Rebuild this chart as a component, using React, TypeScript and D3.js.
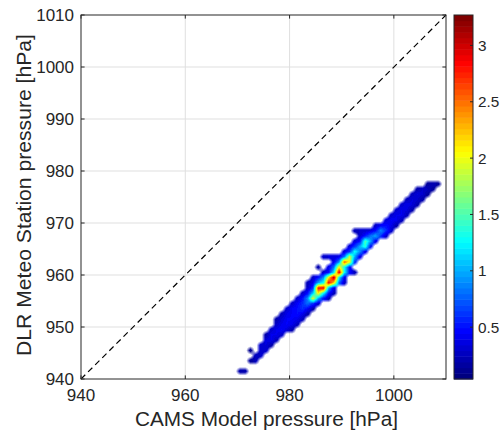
import React, { useMemo } from 'react';
import * as d3 from 'd3';

const xTicks = [940, 960, 980, 1000];
const yTicks = [940, 950, 960, 970, 980, 990, 1000, 1010];
const cbarTicks = [0.5, 1, 1.5, 2, 2.5, 3];
const axisDomain: [number, number] = [940, 1010];
const colorDomain: [number, number] = [0.04, 3.27];
const xLabel = 'CAMS Model pressure [hPa]';
const yLabel = 'DLR Meteo Station pressure [hPa]';

// 2D histogram, 1 hPa bins: lower edge of the station (y) bin, first model (x) bin, bin values
const rowY = [941, 943, 944, 945, 946, 947, 948, 949, 950, 951, 952, 953, 954, 955, 956, 957, 958, 959, 960, 961, 962, 963, 964, 965, 966, 967, 968, 969, 970, 971, 972, 973, 974, 975, 976, 977];
const rowXStart = [970, 972, 973, 972, 974, 975, 975, 976, 977, 977, 978, 979, 980, 981, 982, 983, 983, 984, 986, 985, 988, 986, 990, 991, 992, 993, 992, 996, 998, 999, 1000, 1001, 1002, 1003, 1004, 1006];
const rowValues: number[][] = [
  [0.2, 0.2],
  [0.15, 0.25],
  [0.25, 0.3],
  [0.12, 0, 0.3, 0.3],
  [0.3, 0.35, 0.2],
  [0.35, 0.4, 0.25],
  [0.2, 0.4, 0.4, 0.3],
  [0.3, 0.4, 0.45, 0.35, 0.2],
  [0.3, 0.4, 0.45, 0.4, 0.25],
  [0.2, 0.35, 0.45, 0.45, 0.4, 0.25],
  [0.25, 0.4, 0.45, 0.5, 0.4, 0.2],
  [0.3, 0.45, 0.5, 0.6, 0.45, 0.2],
  [0.3, 0.45, 0.6, 0.8, 0.6, 0.3],
  [0.3, 0.5, 0.9, 2.0, 1.0, 0.5, 0.25],
  [0.3, 0.5, 1.1, 2.1, 1.3, 0.5, 0.25],
  [0.3, 0.6, 2.8, 2.9, 1.0, 0.4],
  [0.25, 0.4, 1.0, 1.3, 2.9, 2.2, 0.8, 0.3],
  [0.3, 0.5, 0.9, 2.1, 3.1, 1.2, 0.4],
  [0.3, 0.5, 1.2, 3.0, 1.3, 0.5, 0.25],
  [0.2, 0, 0.4, 0.8, 2.1, 1.3, 0.5],
  [0.4, 0.9, 2.6, 2.0, 0.6],
  [0.3, 0.35, 0.35, 0.4, 0.8, 1.9, 1.0, 0.4],
  [0.35, 0.6, 1.3, 0.9, 0.4],
  [0.35, 0.6, 1.0, 1.4, 0.5],
  [0.35, 0.5, 1.5, 1.0, 0.4],
  [0.3, 0.5, 0.8, 1.0, 0.6, 0.3],
  [0.25, 0.3, 0.3, 0.35, 0.5, 0.9, 0.6, 0.3],
  [0.3, 0.45, 0.5, 0.4, 0.2],
  [0.35, 0.45, 0.4, 0.25],
  [0.3, 0.4, 0.4, 0.25],
  [0.3, 0.4, 0.35, 0.2],
  [0.3, 0.4, 0.35, 0.2],
  [0.25, 0.35, 0.3, 0.2],
  [0.25, 0.35, 0.3, 0.15],
  [0.2, 0.3, 0.25, 0.15],
  [0.15, 0.25, 0.15],
];

const W = 504;
const H = 431;
const LEFT = 81;
const RIGHT = 446;
const TOP = 15;
const BOTTOM = 379;
const CB_X0 = 454;
const CB_X1 = 473;
const FONT = '"Liberation Sans", Arial, Helvetica, sans-serif';
const TXT = '#262626';
const NLEV = 64;

function jet(t: number): [number, number, number] {
  const c = (v: number) => Math.max(0, Math.min(1, v));
  return [c(1.5 - Math.abs(4 * t - 3)), c(1.5 - Math.abs(4 * t - 2)), c(1.5 - Math.abs(4 * t - 1))];
}
function levelColor(v: number): [number, number, number] {
  const t = (v - colorDomain[0]) / (colorDomain[1] - colorDomain[0]);
  let idx = Math.floor(t * NLEV);
  idx = Math.max(0, Math.min(NLEV - 1, idx));
  return jet(idx / (NLEV - 1));
}

export default function App() {
  const x = d3.scaleLinear().domain(axisDomain).range([LEFT, RIGHT]);
  const y = d3.scaleLinear().domain(axisDomain).range([BOTTOM, TOP]);
  const cy = d3.scaleLinear().domain(colorDomain).range([BOTTOM, TOP]);

  const imgUrl = useMemo(() => {
    const n = axisDomain[1] - axisDomain[0];
    const val = new Float64Array(n * n);
    const mask = new Float64Array(n * n);
    rowY.forEach((yy, r) => {
      rowValues[r].forEach((v, k) => {
        if (v <= 0) return;
        const i = rowXStart[r] + k - axisDomain[0];
        const j = yy - axisDomain[0];
        val[j * n + i] = v;
        mask[j * n + i] = 1;
      });
    });
    const pw = RIGHT - LEFT;
    const ph = BOTTOM - TOP;
    const canvas = document.createElement('canvas');
    canvas.width = pw;
    canvas.height = ph;
    const ctx = canvas.getContext('2d')!;
    const img = ctx.createImageData(pw, ph);
    const get = (arr: Float64Array, i: number, j: number) =>
      i < 0 || j < 0 || i >= n || j >= n ? 0 : arr[j * n + i];
    for (let py = 0; py < ph; py++) {
      const dy = y.invert(TOP + py + 0.5) - axisDomain[0] - 0.5;
      const j0 = Math.floor(dy);
      const fy = dy - j0;
      for (let px = 0; px < pw; px++) {
        const dx = x.invert(LEFT + px + 0.5) - axisDomain[0] - 0.5;
        const i0 = Math.floor(dx);
        const fx = dx - i0;
        const w00 = (1 - fx) * (1 - fy), w10 = fx * (1 - fy), w01 = (1 - fx) * fy, w11 = fx * fy;
        const a = w00 * get(mask, i0, j0) + w10 * get(mask, i0 + 1, j0) + w01 * get(mask, i0, j0 + 1) + w11 * get(mask, i0 + 1, j0 + 1);
        if (a < 0.01) continue;
        const s = w00 * get(val, i0, j0) + w10 * get(val, i0 + 1, j0) + w01 * get(val, i0, j0 + 1) + w11 * get(val, i0 + 1, j0 + 1);
        const v = s / a;
        const alpha = Math.max(0, Math.min(1, a * 1.6 - 0.3));
        const [r, g, b] = levelColor(v);
        const o = (py * pw + px) * 4;
        img.data[o] = r * 255;
        img.data[o + 1] = g * 255;
        img.data[o + 2] = b * 255;
        img.data[o + 3] = alpha * 255;
      }
    }
    ctx.putImageData(img, 0, 0);
    return canvas.toDataURL();
  }, []);

  const tickLen = 3.6;
  const levels = d3.range(NLEV);
  const cbStep = (colorDomain[1] - colorDomain[0]) / NLEV;

  return (
    <svg width={W} height={H} style={{ position: 'absolute', left: 0, top: 0, background: '#fff' }} fontFamily={FONT}>
      <rect x={0} y={0} width={W} height={H} fill="#fff" />
      {xTicks.filter((t) => t > axisDomain[0] && t < axisDomain[1]).map((t) => (
        <line key={'gx' + t} x1={x(t)} x2={x(t)} y1={TOP} y2={BOTTOM} stroke="#dfdfdf" strokeWidth={1} />
      ))}
      {yTicks.filter((t) => t > axisDomain[0] && t < axisDomain[1]).map((t) => (
        <line key={'gy' + t} x1={LEFT} x2={RIGHT} y1={y(t)} y2={y(t)} stroke="#dfdfdf" strokeWidth={1} />
      ))}
      <image href={imgUrl} x={LEFT} y={TOP} width={RIGHT - LEFT} height={BOTTOM - TOP} />
      <line x1={x(axisDomain[0])} y1={y(axisDomain[0])} x2={x(axisDomain[1])} y2={y(axisDomain[1])} stroke="#000" strokeWidth={1.2} strokeDasharray="6,4" />
      <rect x={LEFT} y={TOP} width={RIGHT - LEFT} height={BOTTOM - TOP} fill="none" stroke={TXT} strokeWidth={1} />
      {xTicks.map((t) => (
        <g key={'tx' + t}>
          <line x1={x(t)} x2={x(t)} y1={BOTTOM} y2={BOTTOM - tickLen} stroke={TXT} />
          <line x1={x(t)} x2={x(t)} y1={TOP} y2={TOP + tickLen} stroke={TXT} />
          <text x={x(t)} y={BOTTOM + 22} textAnchor="middle" fontSize={17} fill={TXT}>{t}</text>
        </g>
      ))}
      {yTicks.map((t) => (
        <g key={'ty' + t}>
          <line x1={LEFT} x2={LEFT + tickLen} y1={y(t)} y2={y(t)} stroke={TXT} />
          <line x1={RIGHT} x2={RIGHT - tickLen} y1={y(t)} y2={y(t)} stroke={TXT} />
          <text x={74} y={y(t) + 6} textAnchor="end" fontSize={17} fill={TXT}>{t}</text>
        </g>
      ))}
      <text x={266.5} y={426} textAnchor="middle" fontSize={19.5} textLength={263} lengthAdjust="spacingAndGlyphs" fill={TXT}>{xLabel}</text>
      <text transform={`translate(31,195) rotate(-90)`} textAnchor="middle" fontSize={19.5} textLength={322} lengthAdjust="spacingAndGlyphs" fill={TXT}>{yLabel}</text>
      {levels.map((k) => {
        const v0 = colorDomain[0] + k * cbStep;
        const [r, g, b] = jet(k / (NLEV - 1));
        return (
          <rect key={'cb' + k} x={CB_X0} width={CB_X1 - CB_X0} y={cy(v0 + cbStep)} height={cy(v0) - cy(v0 + cbStep) + 0.5}
            fill={d3.rgb(r * 255, g * 255, b * 255).toString()} />
        );
      })}
      <rect x={CB_X0} y={TOP} width={CB_X1 - CB_X0} height={BOTTOM - TOP} fill="none" stroke={TXT} strokeWidth={1} />
      {cbarTicks.map((t) => (
        <g key={'ct' + t}>
          <line x1={CB_X1} x2={CB_X1 - 3} y1={cy(t)} y2={cy(t)} stroke={TXT} />
          <text x={478} y={cy(t) + 5.5} fontSize={15.3} fill={TXT}>{t}</text>
        </g>
      ))}
    </svg>
  );
}
